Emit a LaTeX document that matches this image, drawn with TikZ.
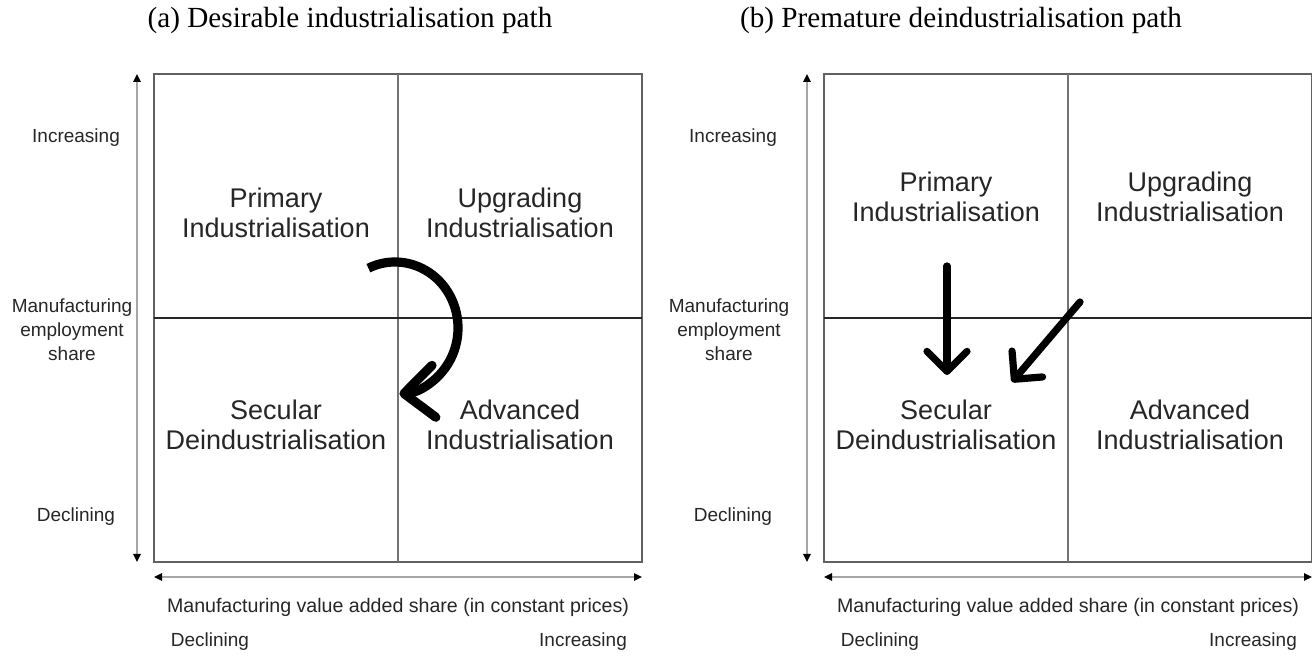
\documentclass[tikz,border=0pt]{standalone}
\usepackage{fontspec}
\setmainfont{Liberation Serif}
\setsansfont{Liberation Sans}
\usetikzlibrary{arrows.meta}

\begin{document}
\begin{tikzpicture}[x=0.5pt, y=0.5pt,
    quadbox/.style={draw=black!62, line width=1pt},
    vdivide/.style={draw=black!55, line width=1pt},
    hdivide/.style={draw=black!85, line width=0.6pt},
    axisline/.style={black!35, line width=1pt,
        {Triangle[length=4pt, width=3.6pt, color=black]}-{Triangle[length=4pt, width=3.6pt, color=black]}},
    axislabel/.style={font=\sffamily\fontsize{9.5}{12}\selectfont, text=black!85, align=center, inner sep=0pt},
    quadlabel/.style={font=\sffamily\fontsize{13.5}{15}\selectfont, text=black!85, align=center, inner sep=0pt},
    paneltitle/.style={font=\fontsize{14.6}{17}\selectfont, inner sep=0pt},
    turnarrow/.style={line width=4.6pt, -{Straight Barb[round, length=15pt, width=26pt]}},
    droparrow/.style={line width=3.6pt, line cap=round, -{Straight Barb[round, length=10pt, width=20pt]}}
]

    % page size
    \useasboundingbox (0,0) rectangle (1312,656);

    % titles
    \node[paneltitle] (titlea) at (350,636) {(a) Desirable industrialisation path};
    \node[paneltitle] (titleb) at (961,636) {(b) Premature deindustrialisation path};

    % the two quadrant panels
    \foreach \p/\px/\lx/\ty in {a/0/76/443, b/670/733/459} {
        \begin{scope}[shift={(\px,0)}]
            \draw[quadbox] (154,94) rectangle (642,582);
            \draw[vdivide] (398,94) -- (398,582);
            \draw[hdivide] (154,338) -- (642,338);

            % axes
            \coordinate (ytop\p) at (137,582);
            \coordinate (ybot\p) at (137,94);
            \coordinate (xleft\p) at (154,79);
            \coordinate (xright\p) at (642,79);
            \draw[axisline] (ytop\p) -- (ybot\p);
            \draw[axisline] (xleft\p) -- (xright\p);

            % axis labels
            \node[axislabel] (yinc\p) at (\lx-\px,518) {Increasing};
            \node[axislabel] (yname\p) at (\lx-\px-4,326) {Manufacturing\\employment\\share};
            \node[axislabel] (ydec\p) at (\lx-\px,139) {Declining};
            \node[axislabel, font=\sffamily\fontsize{9.8}{12}\selectfont] (xname\p) at (398,49)
                {Manufacturing value added share (in constant prices)};
            \node[axislabel] (xdec\p) at (210,14) {Declining};
            \node[axislabel] (xinc\p) at (583,14) {Increasing};

            % quadrants
            \node[quadlabel] (primary\p) at (276,\ty) {Primary\\Industrialisation};
            \node[quadlabel] (upgrading\p) at (520,\ty) {Upgrading\\Industrialisation};
            \node[quadlabel] (secular\p) at (276,231) {Secular\\Deindustrialisation};
            \node[quadlabel] (advanced\p) at (520,231) {Advanced\\Industrialisation};
        \end{scope}
    }

    % (a) turning path
    \coordinate (turnstart) at (368.4,387.8);
    \draw[turnarrow] (turnstart) arc[start angle=115, end angle=-86, x radius=63, y radius=66];

    % (b) falling paths
    \coordinate (dropstart) at (947,390);
    \coordinate (dropend) at (947,281);
    \coordinate (slidestart) at (1080,354);
    \coordinate (slideend) at (1012,274);
    \draw[droparrow] (dropstart) -- (dropend);
    \draw[droparrow] (slidestart) -- (slideend);

\end{tikzpicture}
\end{document}
